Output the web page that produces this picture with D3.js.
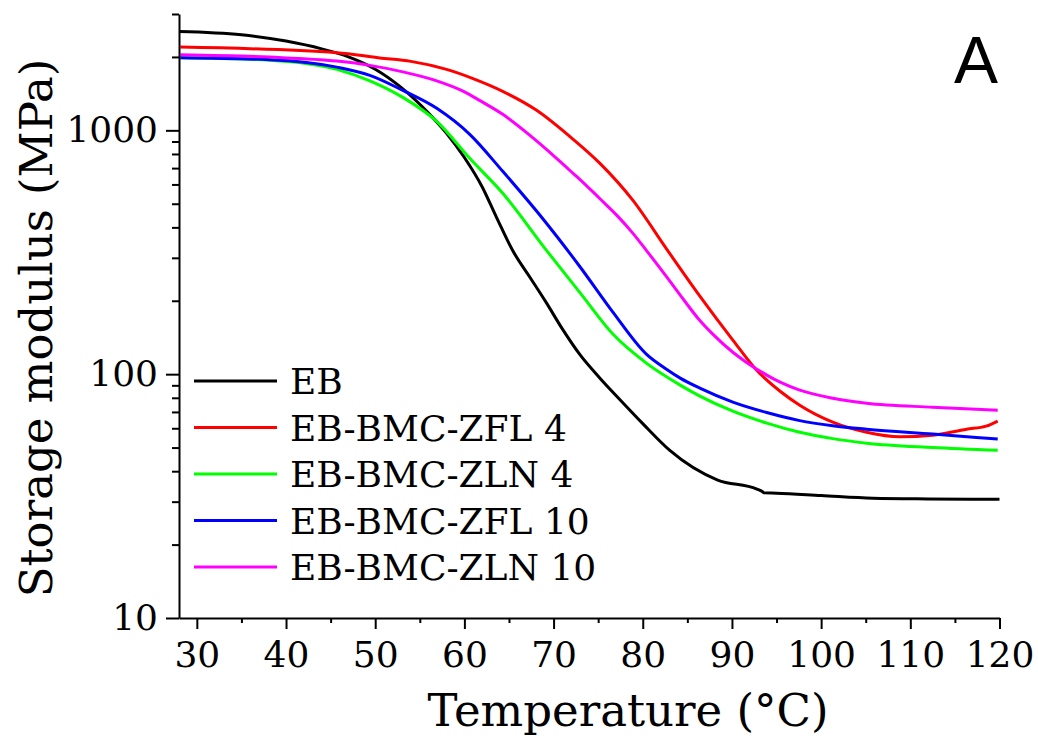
<!DOCTYPE html>
<html>
<head>
<meta charset="utf-8">
<script src="https://cdn.jsdelivr.net/npm/d3@7"></script>
<style>
  html, body { margin: 0; padding: 0; background: #fff; }
  svg { display: block; }
</style>
</head>
<body>
<svg id="chart" width="1038" height="738"></svg>
<script>
// Storage modulus vs temperature (DMA), five formulations
const tempEB = [28, 35, 40, 44, 47, 50, 53, 56, 58, 60, 62, 63.6, 65.4, 67.4, 69.2, 71, 73, 75.2, 77.5, 80, 83, 88.4, 92.8, 93.4, 93.6, 95, 100, 105.8, 112, 120];
const modEB  = [2545, 2467, 2323, 2158, 2000, 1780, 1489, 1174, 973, 774, 586, 440, 322, 248, 196, 153, 119.6, 96.3, 78.2, 62.7, 48.8, 36.8, 33.8, 33.0, 32.6, 32.5, 31.8, 31.0, 30.8, 30.7];

const tempZFL4 = [28.15, 45.7, 50.5, 54, 58, 60.9, 64.3, 68.1, 71.8, 75.2, 78.9, 82.7, 86.4, 90.1, 92.75, 95.4, 97.6, 101.3, 105.1, 108.8, 112.5, 116.3, 118.5, 119.8];
const modZFL4  = [2195, 2082, 1982, 1918, 1778, 1634, 1445, 1208, 945, 732, 516, 325, 209, 138, 104, 85.1, 74.6, 63.6, 57.8, 55.4, 56.2, 59.5, 61.2, 64.2];

const tempZLN4 = [28.15, 38.2, 45.7, 49.4, 53.1, 56.9, 60.6, 64.3, 69.2, 73, 76.65, 80.4, 84.2, 86.4, 90.1, 93.9, 97.6, 101.3, 105.1, 112.5, 119.8];
const modZLN4  = [1986, 1940, 1778, 1596, 1365, 1089, 768, 552, 322, 215, 146, 111, 90.2, 81.3, 70.5, 63.0, 57.8, 54.4, 52.1, 50.0, 48.7];

const tempZFL10 = [28.15, 38.2, 45.7, 49.4, 53.1, 56.9, 60.6, 64.3, 69.2, 73, 76.65, 80.4, 82.7, 84.2, 86.4, 90.1, 93.9, 97.6, 101.3, 105.1, 112.5, 119.8];
const modZFL10  = [1986, 1949, 1817, 1680, 1458, 1231, 963, 679, 416, 274.5, 179.6, 120.8, 104.5, 96.3, 87.6, 76.8, 69.6, 64.5, 61.5, 59.5, 56.8, 54.2];

const tempZLN10 = [28.15, 38.2, 45.7, 49.4, 53.1, 56.9, 59.9, 61.7, 64.3, 67.35, 69.2, 71.8, 73, 75.2, 77.1, 78.9, 80.4, 82.7, 84.2, 86.4, 87.85, 90.1, 91.6, 93.9, 95.4, 97.6, 101.3, 105.1, 112.5, 119.8];
const modZLN10  = [2043, 1997, 1923, 1847, 1737, 1596, 1445, 1327, 1163, 954, 836, 686, 627, 524, 448, 378, 322, 250, 211, 166, 146, 123, 112, 99.1, 92.7, 86.0, 79.7, 76.0, 73.2, 71.2];

const seriesNames  = ["EB", "EB-BMC-ZFL 4", "EB-BMC-ZLN 4", "EB-BMC-ZFL 10", "EB-BMC-ZLN 10"];
const seriesColors = ["#000000", "#ff0000", "#00ff00", "#0000ff", "#ff00ff"];
const seriesTemps  = [tempEB, tempZFL4, tempZLN4, tempZFL10, tempZLN10];
const seriesMods   = [modEB, modZFL4, modZLN4, modZFL10, modZLN10];

const xTickValues = [30, 40, 50, 60, 70, 80, 90, 100, 110, 120];
const xMinorValues = [35, 45, 55, 65, 75, 85, 95, 105, 115];
const yTickValues = [10, 100, 1000];
const yMinorValues = [20, 30, 40, 50, 60, 70, 80, 90, 200, 300, 400, 500, 600, 700, 800, 900, 2000, 3000];

const xLabel = "Temperature (°C)";
const yLabel = "Storage modulus (MPa)";
const panelLabel = "A";

const svg = d3.select("#chart");
const serif = "'DejaVu Serif', serif";

const x = d3.scaleLinear().domain([28, 120]).range([179, 999.5]);
const y = d3.scaleLog().domain([10, 3000]).range([618, 14]);

// curves
const line = d3.line()
  .x(d => x(d[0]))
  .y(d => y(d[1]))
  .curve(d3.curveMonotoneX);

const series = seriesNames.map((name, i) => ({
  name,
  color: seriesColors[i],
  points: seriesTemps[i].map((t, j) => [t, seriesMods[i][j]])
}));

svg.append("g")
  .selectAll("path")
  .data(series)
  .join("path")
  .attr("d", d => line(d.points))
  .attr("fill", "none")
  .attr("stroke", d => d.color)
  .attr("stroke-width", 3)
  .attr("stroke-linejoin", "round");

// bottom axis
const xAxis = svg.append("g").attr("transform", "translate(0,618)");
xAxis.call(d3.axisBottom(x).tickValues(xTickValues).tickSize(11).tickPadding(12).tickSizeOuter(0));
xAxis.append("g").call(d3.axisBottom(x).tickValues(xMinorValues).tickSize(5).tickFormat("").tickSizeOuter(0))
  .select(".domain").remove();
xAxis.selectAll("text")
  .attr("font-family", serif).attr("font-size", 36).attr("fill", "#000")
  .attr("dy", "0.71em");

// left axis
const yAxis = svg.append("g").attr("transform", "translate(179,0)");
yAxis.call(d3.axisLeft(y).tickValues(yTickValues).tickFormat(d3.format("d")).tickSize(13).tickPadding(8).tickSizeOuter(0));
yAxis.append("g").call(d3.axisLeft(y).tickValues(yMinorValues).tickSize(7).tickFormat("").tickSizeOuter(0))
  .select(".domain").remove();
yAxis.selectAll("text")
  .attr("font-family", serif).attr("font-size", 36).attr("fill", "#000");

svg.selectAll(".domain, .tick line").attr("stroke", "#000").attr("stroke-width", 2);

// axis titles
svg.append("text")
  .attr("x", 628).attr("y", 726)
  .attr("text-anchor", "middle")
  .attr("font-family", serif).attr("font-size", 45)
  .text(xLabel);

svg.append("text")
  .attr("transform", "translate(52,328) rotate(-90)")
  .attr("text-anchor", "middle")
  .attr("font-family", serif).attr("font-size", 45)
  .text(yLabel);

// panel letter
svg.append("text")
  .attr("x", 998).attr("y", 83)
  .attr("text-anchor", "end")
  .attr("font-family", "'Liberation Sans', Arial, sans-serif").attr("font-size", 66)
  .text(panelLabel);

// legend
const legendItems = svg.append("g").selectAll("g")
  .data(series)
  .join("g")
  .attr("transform", (d, i) => `translate(194,${381 + i * 46.5})`);
legendItems.append("line")
  .attr("x1", 0).attr("x2", 83).attr("y1", 0).attr("y2", 0)
  .attr("stroke", d => d.color).attr("stroke-width", 3);
legendItems.append("text")
  .attr("x", 96).attr("y", 13)
  .attr("font-family", serif).attr("font-size", 36)
  .text(d => d.name);
</script>
</body>
</html>
